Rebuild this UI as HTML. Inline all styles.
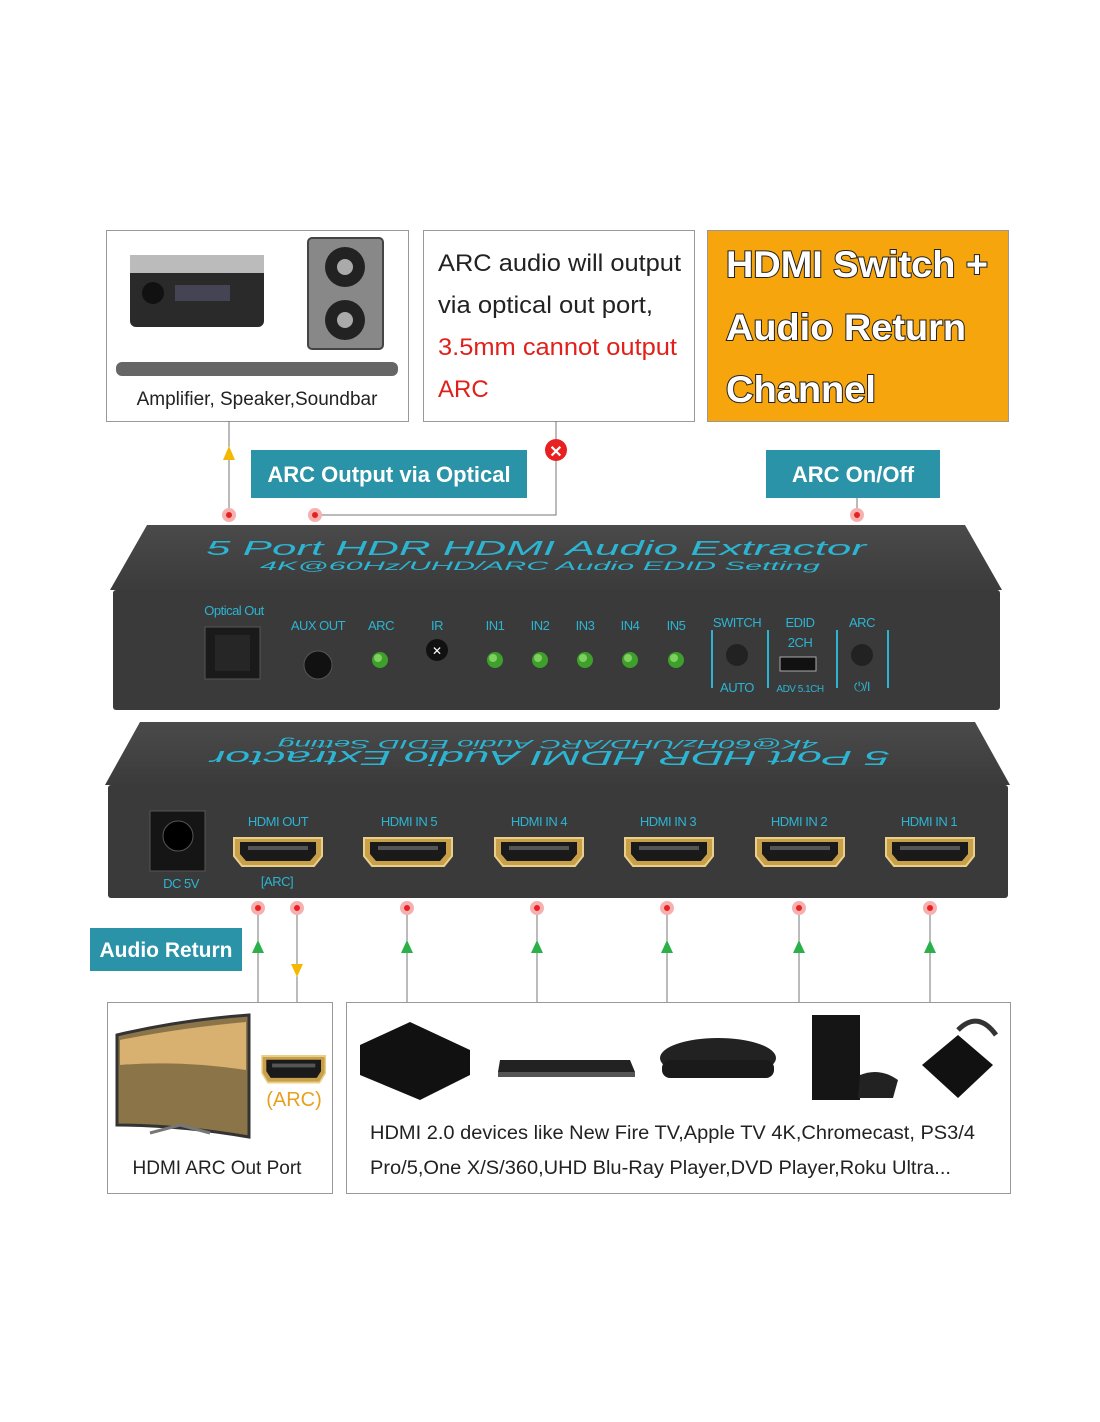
<!DOCTYPE html>
<html><head><meta charset="utf-8"><style>
body{margin:0;background:#fff;}
svg{display:block;font-family:"Liberation Sans",sans-serif;}
</style></head><body>
<svg width="1100" height="1422" viewBox="0 0 1100 1422" xmlns="http://www.w3.org/2000/svg">
<defs>
<linearGradient id="top" x1="0" y1="0" x2="0" y2="1"><stop offset="0" stop-color="#4a4a4a"/><stop offset="1" stop-color="#3b3b3b"/></linearGradient>
<g id="hdmi"><path d="M0,0 h88 v18 l-8,10 h-72 l-8,-10z" fill="#c9a04a" stroke="#e9cf8a" stroke-width="2"/><path d="M6,4 h76 v12 l-6,7 h-64 l-6,-7z" fill="#1a1a1a"/><rect x="14" y="8" width="60" height="4" fill="#555"/></g>
<g id="led"><circle r="8" fill="#3ea02a"/><circle r="4" cx="-2" cy="-2" fill="#7fd060"/></g>
</defs>
<!-- top boxes -->
<rect x="106.5" y="230.5" width="302" height="191" fill="#fff" stroke="#999"/>
<rect x="130" y="255" width="134" height="72" rx="6" fill="#2a2a2a"/><rect x="130" y="255" width="134" height="18" fill="#bbb"/>
<circle cx="153" cy="293" r="11" fill="#111"/><rect x="175" y="285" width="55" height="16" fill="#445"/>
<rect x="308" y="238" width="75" height="111" rx="4" fill="#888" stroke="#444" stroke-width="2"/>
<circle cx="345" cy="267" r="20" fill="#222"/><circle cx="345" cy="267" r="8" fill="#aaa"/>
<circle cx="345" cy="320" r="20" fill="#222"/><circle cx="345" cy="320" r="8" fill="#aaa"/>
<rect x="116" y="362" width="282" height="14" rx="6" fill="#666"/>
<text x="257" y="405" font-size="19" text-anchor="middle" fill="#222">Amplifier, Speaker,Soundbar</text>
<rect x="423.5" y="230.5" width="271" height="191" fill="#fff" stroke="#999"/>
<g font-size="24">
<text x="438" y="271" fill="#222" textLength="243" lengthAdjust="spacingAndGlyphs">ARC audio will output</text>
<text x="438" y="313" fill="#222" textLength="215" lengthAdjust="spacingAndGlyphs">via optical out port,</text>
<text x="438" y="355" fill="#e0201a" textLength="239" lengthAdjust="spacingAndGlyphs">3.5mm cannot output</text>
<text x="438" y="397" fill="#e0201a">ARC</text></g>
<rect x="707.5" y="230.5" width="301" height="191" fill="#f7a50c" stroke="#999"/>
<g font-size="37" font-weight="bold" fill="#fff" stroke="#222" stroke-width="2" paint-order="stroke">
<text x="726" y="277" textLength="262" lengthAdjust="spacingAndGlyphs">HDMI Switch +</text><text x="726" y="340" textLength="240" lengthAdjust="spacingAndGlyphs">Audio Return</text><text x="726" y="402" textLength="150" lengthAdjust="spacingAndGlyphs">Channel</text></g>
<!-- labels -->
<rect x="251" y="450" width="276" height="48" fill="#2a93a8"/>
<text x="389" y="482" font-size="22" font-weight="bold" fill="#fff" text-anchor="middle">ARC Output via Optical</text>
<rect x="766" y="450" width="174" height="48" fill="#2a93a8"/>
<text x="853" y="482" font-size="22" font-weight="bold" fill="#fff" text-anchor="middle">ARC On/Off</text>
<!-- connectors top -->
<g stroke="#777" stroke-width="1" fill="none">
<line x1="229" y1="421" x2="229" y2="515"/><polyline points="315,515 556,515 556,421"/>
<line x1="857" y1="498" x2="857" y2="515"/></g>
<path d="M229,446 l-6,14 h12z" fill="#f5b800"/>
<circle cx="556" cy="450" r="11" fill="#e82020"/><text x="556" y="457" font-size="16" font-weight="bold" fill="#fff" text-anchor="middle">✕</text>
<g fill="#e82020" stroke="#f6b0b0" stroke-width="4"><circle cx="229" cy="515" r="5"/><circle cx="315" cy="515" r="5"/><circle cx="857" cy="515" r="5"/></g>
<!-- device 1 -->
<path d="M147,525 H965 L1002,590 H110z" fill="url(#top)"/>
<rect x="113" y="590" width="887" height="120" rx="3" fill="#3a3a3a"/>
<text x="536" y="555" font-size="20" font-style="italic" fill="#2cb5d3" text-anchor="middle" textLength="660" lengthAdjust="spacingAndGlyphs">5 Port HDR HDMI Audio Extractor</text>
<text x="540" y="570" font-size="12" font-style="italic" fill="#2cb5d3" text-anchor="middle" textLength="560" lengthAdjust="spacingAndGlyphs">4K@60Hz/UHD/ARC Audio EDID Setting</text>
<g font-size="13" fill="#2cb5d3" text-anchor="middle" letter-spacing="-0.5">
<text x="234" y="615">Optical Out</text><text x="318" y="630">AUX OUT</text><text x="381" y="630">ARC</text><text x="437" y="630">IR</text>
<text x="495" y="630">IN1</text><text x="540" y="630">IN2</text><text x="585" y="630">IN3</text><text x="630" y="630">IN4</text><text x="676" y="630">IN5</text>
<text x="737" y="627">SWITCH</text><text x="737" y="692">AUTO</text><text x="800" y="627">EDID</text><text x="800" y="647">2CH</text><text x="800" y="692" font-size="10">ADV 5.1CH</text><text x="862" y="627">ARC</text><text x="862" y="691">⏻/I</text></g>
<rect x="205" y="627" width="55" height="52" fill="#1a1a1a" stroke="#555"/><rect x="215" y="635" width="35" height="36" fill="#262626"/>
<circle cx="318" cy="665" r="14" fill="#111" stroke="#555"/>
<use href="#led" x="380" y="660"/><circle cx="437" cy="650" r="11" fill="#111"/><text x="437" y="655" font-size="12" fill="#fff" text-anchor="middle">✕</text>
<use href="#led" x="495" y="660"/><use href="#led" x="540" y="660"/><use href="#led" x="585" y="660"/><use href="#led" x="630" y="660"/><use href="#led" x="676" y="660"/>
<g stroke="#2cb5d3" stroke-width="2" fill="none"><path d="M712,630 v58 M768,630 v58 M837,630 v58 M888,630 v58"/></g>
<circle cx="737" cy="655" r="11" fill="#222"/><circle cx="862" cy="655" r="11" fill="#222"/>
<rect x="780" y="657" width="36" height="14" fill="#111" stroke="#aaa"/>
<!-- device 2 -->
<path d="M140,722 H975 L1010,785 H105z" fill="url(#top)"/>
<rect x="108" y="785" width="900" height="113" rx="3" fill="#3a3a3a"/>
<text x="550" y="765" font-size="20" font-style="italic" fill="#2cb5d3" text-anchor="middle" textLength="680" lengthAdjust="spacingAndGlyphs" transform="rotate(180 550 758)">5 Port HDR HDMI Audio Extractor</text>
<text x="548" y="748" font-size="12" font-style="italic" fill="#2cb5d3" text-anchor="middle" textLength="540" lengthAdjust="spacingAndGlyphs" transform="rotate(180 548 744)">4K@60Hz/UHD/ARC Audio EDID Setting</text>
<rect x="150" y="811" width="55" height="60" fill="#151515" stroke="#555"/><circle cx="178" cy="836" r="15" fill="#000" stroke="#555"/>
<g font-size="13" fill="#2cb5d3" text-anchor="middle" letter-spacing="-0.5">
<text x="181" y="888">DC 5V</text><text x="278" y="826">HDMI OUT</text><text x="277" y="886">[ARC]</text>
<text x="409" y="826">HDMI IN 5</text><text x="539" y="826">HDMI IN 4</text><text x="668" y="826">HDMI IN 3</text><text x="799" y="826">HDMI IN 2</text><text x="929" y="826">HDMI IN 1</text></g>
<use href="#hdmi" x="234" y="838"/><use href="#hdmi" x="364" y="838"/><use href="#hdmi" x="495" y="838"/><use href="#hdmi" x="625" y="838"/><use href="#hdmi" x="756" y="838"/><use href="#hdmi" x="886" y="838"/>
<!-- bottom connectors -->
<g stroke="#777" stroke-width="1"><line x1="258" y1="908" x2="258" y2="1002"/><line x1="297" y1="908" x2="297" y2="1002"/><line x1="407" y1="908" x2="407" y2="1002"/><line x1="537" y1="908" x2="537" y2="1002"/><line x1="667" y1="908" x2="667" y2="1002"/><line x1="799" y1="908" x2="799" y2="1002"/><line x1="930" y1="908" x2="930" y2="1002"/></g>
<g fill="#2bb04a"><path d="M258,940 l-6,13 h12z"/><path d="M407,940 l-6,13 h12z"/><path d="M537,940 l-6,13 h12z"/><path d="M667,940 l-6,13 h12z"/><path d="M799,940 l-6,13 h12z"/><path d="M930,940 l-6,13 h12z"/></g>
<path d="M297,977 l-6,-13 h12z" fill="#f5b800"/>
<g fill="#e82020" stroke="#f6b0b0" stroke-width="4"><circle cx="258" cy="908" r="5"/><circle cx="297" cy="908" r="5"/><circle cx="407" cy="908" r="5"/><circle cx="537" cy="908" r="5"/><circle cx="667" cy="908" r="5"/><circle cx="799" cy="908" r="5"/><circle cx="930" cy="908" r="5"/></g>
<rect x="90" y="928" width="152" height="43" fill="#2a93a8"/>
<text x="166" y="957" font-size="21" font-weight="bold" fill="#fff" text-anchor="middle">Audio Return</text>
<!-- bottom boxes -->
<rect x="107.5" y="1002.5" width="225" height="191" fill="#fff" stroke="#999"/>
<path d="M117,1035 Q180,1020 249,1015 V1137 Q180,1125 117,1125z" fill="#8a7448" stroke="#333" stroke-width="3"/>
<path d="M120,1040 Q180,1028 246,1022 V1070 Q180,1060 120,1065z" fill="#d8b070"/>
<path d="M150,1133 l30,-8 l30,8" stroke="#777" stroke-width="3" fill="none"/>
<use href="#hdmi" transform="translate(262,1056) scale(0.72,0.95)"/>
<text x="294" y="1106" font-size="20" fill="#e8a020" text-anchor="middle">(ARC)</text>
<text x="217" y="1174" font-size="19" fill="#222" text-anchor="middle">HDMI ARC Out Port</text>
<rect x="346.5" y="1002.5" width="664" height="191" fill="#fff" stroke="#999"/>
<path d="M360,1045 L410,1022 L470,1050 V1075 L420,1100 L360,1075z" fill="#111"/>
<path d="M500,1060 H630 L635,1072 H498z" fill="#222"/><rect x="498" y="1072" width="137" height="5" fill="#555"/>
<ellipse cx="718" cy="1058" rx="58" ry="20" fill="#222"/><rect x="662" y="1060" width="112" height="18" rx="8" fill="#1a1a1a"/>
<rect x="812" y="1015" width="48" height="85" fill="#151515"/><path d="M860,1075 q20,-8 38,5 l-5,18 h-35z" fill="#222"/>
<path d="M922,1065 L958,1035 L993,1065 L958,1098z" fill="#111"/><path d="M958,1030 q20,-20 38,5" stroke="#333" stroke-width="5" fill="none"/>
<text x="370" y="1139" font-size="19" fill="#222" textLength="605" lengthAdjust="spacingAndGlyphs">HDMI 2.0 devices like New Fire TV,Apple TV 4K,Chromecast, PS3/4</text>
<text x="370" y="1174" font-size="19" fill="#222" textLength="581" lengthAdjust="spacingAndGlyphs">Pro/5,One X/S/360,UHD Blu-Ray Player,DVD Player,Roku Ultra...</text>
</svg>
</body></html>
